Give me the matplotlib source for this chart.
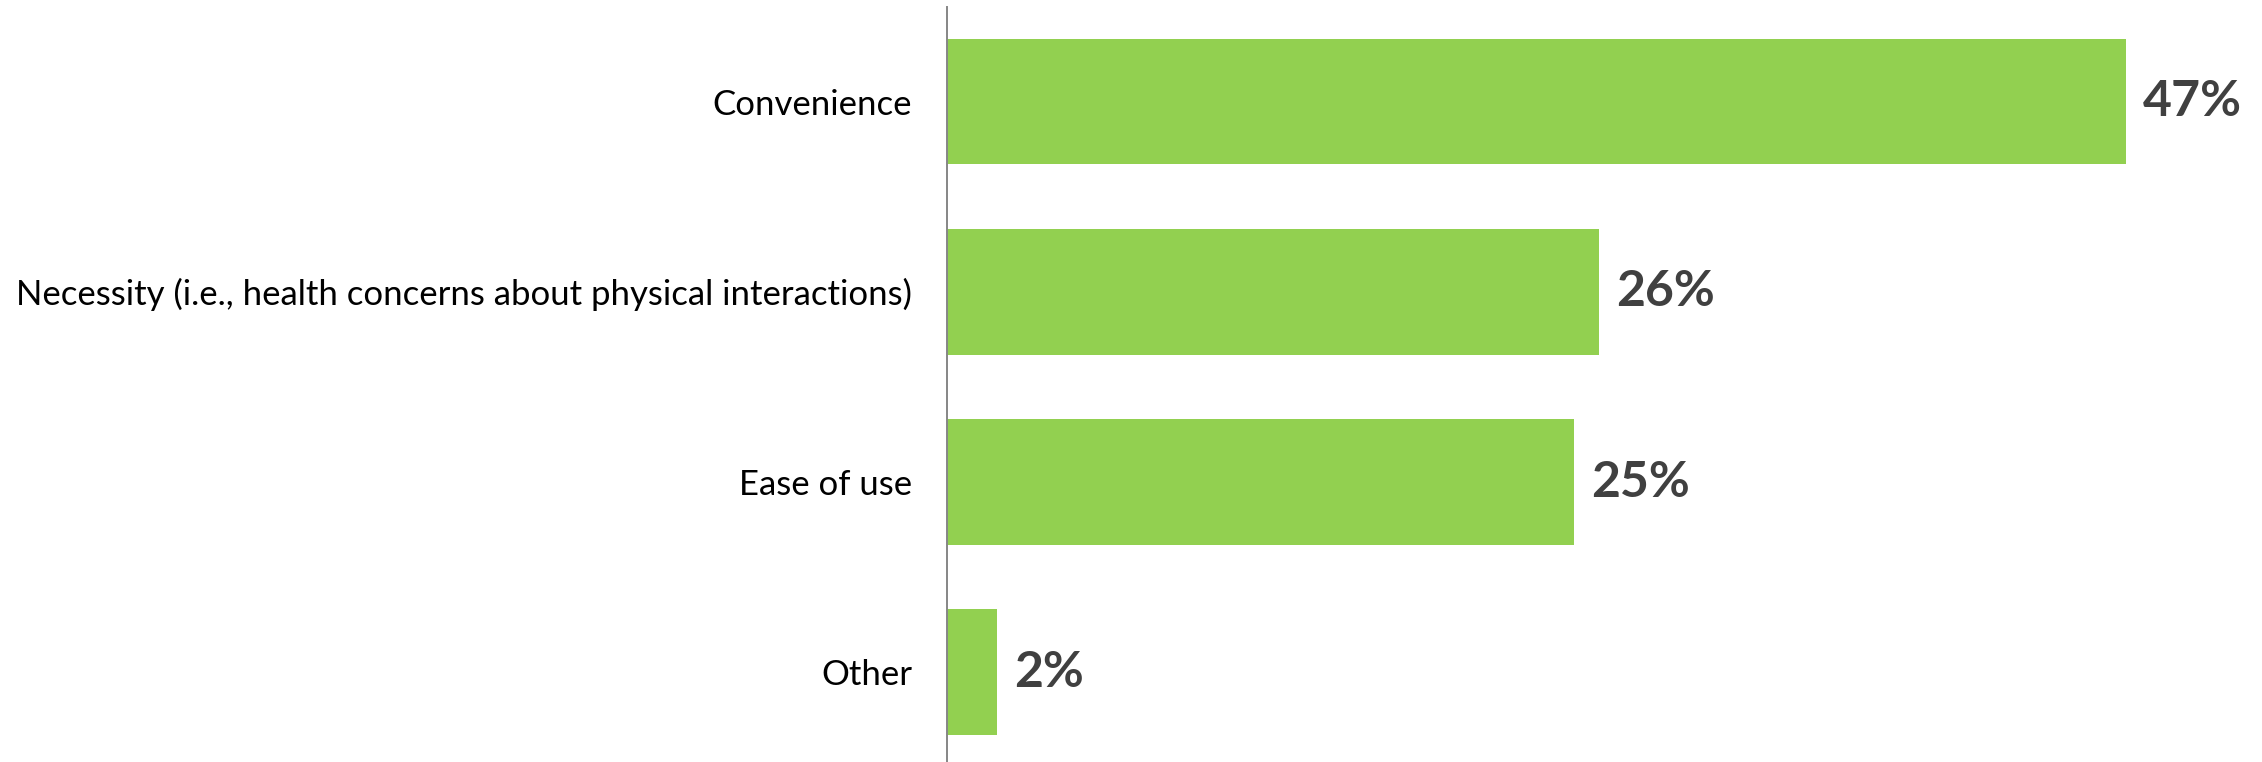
import matplotlib.pyplot as plt

# reasons for using the service, share of respondents (%)
categories = [
    "Convenience",
    "Necessity (i.e., health concerns about physical interactions)",
    "Ease of use",
    "Other",
]
shares = [47, 26, 25, 2]

plt.rcParams['font.family'] = ['Lato', 'DejaVu Sans']

fig = plt.figure(figsize=(22.62, 7.62), dpi=100)
ax = fig.add_axes([947 / 2262, 0.0, 1315 / 2262, 755 / 762])

pos = range(len(categories))
ax.barh(pos, shares, height=0.66, color='#92D050')

for p, v in zip(pos, shares):
    ax.annotate(f"{v}%", xy=(v, p), xytext=(12, 0), textcoords='offset points',
                va='center', ha='left', fontsize=36, fontweight='bold',
                color='#404040')

ax.set_ylim(3.472, -0.498)
ax.set_xlim(0, 52.42)
ax.set_yticks(list(pos))
ax.set_yticklabels(categories, fontsize=25, color='black')
ax.tick_params(axis='y', length=0, pad=25)
ax.set_xticks([])

for side in ['top', 'right', 'bottom']:
    ax.spines[side].set_visible(False)
ax.spines['left'].set_color('#868686')
ax.spines['left'].set_linewidth(1.4)

fig.savefig('out.png', dpi=100, facecolor='white')
